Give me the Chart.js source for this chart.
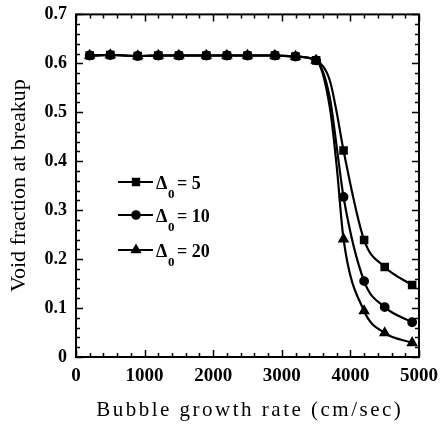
<!DOCTYPE html>
<html><head><meta charset="utf-8">
<script src="https://cdn.jsdelivr.net/npm/chart.js@4/dist/chart.umd.min.js"></script>
<style>html,body{margin:0;padding:0;background:#fff;}#wrap{width:448px;height:426px;position:relative;}</style>
</head><body><div id="wrap"><canvas id="c" width="448" height="426"></canvas></div>
<script>
const growthRate = [200,500,900,1200,1500,1900,2200,2500,2900,3200,3500,3700,3800,3900,4200,4500,4900];
const delta5  = [0.616,0.617,0.615,0.616,0.616,0.616,0.616,0.616,0.616,0.614,0.606,0.565,0.50,0.422,0.239,0.184,0.147];
const delta10 = [0.616,0.617,0.615,0.616,0.616,0.616,0.616,0.616,0.616,0.614,0.606,0.53,0.43,0.327,0.155,0.102,0.071];
const delta20 = [0.616,0.617,0.615,0.616,0.616,0.616,0.616,0.616,0.616,0.614,0.606,0.51,0.39,0.241,0.094,0.049,0.029];
const markerShown = [1,1,1,1,1,1,1,1,1,1,1,0,0,1,1,1,1];
const seriesNames = ["5","10","20"];
const xTicks = [0,1000,2000,3000,4000,5000];
const yTicks = [0,0.1,0.2,0.3,0.4,0.5,0.6,0.7];
const xTitle = 'Bubble growth rate (cm/sec)';
const yTitle = 'Void fraction at breakup';

const styles = ['rect','circle','triangle'];
const sizes = [4.5,3.8,4.5];
function mk(vals, i){
  return {
    label: 'Δ0 = ' + seriesNames[i],
    data: growthRate.map((x,k)=>({x:x,y:vals[k]})),
    borderColor:'#000', backgroundColor:'#000', borderWidth:2.2,
    pointStyle: styles[i],
    pointRadius: markerShown.map(m=> m? sizes[i] : 0),
    pointBackgroundColor:'#000', pointBorderColor:'#000',
    cubicInterpolationMode:'monotone', fill:false
  };
}
const serif = "'Liberation Serif','DejaVu Serif',serif";

function spacedText(ctx, text, cx, y, sp){
  let w = 0; const ws = [];
  for(const ch of text){ const m = ctx.measureText(ch).width; ws.push(m); w += m + sp; }
  w -= sp;
  let x = cx - w/2; let i = 0;
  ctx.textAlign='left';
  for(const ch of text){ ctx.fillText(ch, x, y); x += ws[i++] + sp; }
}

const frame = {
  id:'frame',
  afterDraw(chart){
    const ctx = chart.ctx, a = chart.chartArea;
    const xs = chart.scales.x, ys = chart.scales.y;
    ctx.save();
    ctx.strokeStyle='#000'; ctx.lineWidth=2;
    ctx.strokeRect(a.left, a.top, a.right-a.left, a.bottom-a.top);
    ctx.lineWidth=1.5;
    for(let v=0; v<=5000; v+=200){
      const p = Math.round(xs.getPixelForValue(v))+0.5;
      const L = (v%1000===0)?7:4;
      ctx.beginPath(); ctx.moveTo(p,a.bottom); ctx.lineTo(p,a.bottom-L);
      ctx.moveTo(p,a.top); ctx.lineTo(p,a.top+L); ctx.stroke();
    }
    for(let k=0;k<=35;k++){
      const v = k*0.02;
      const p = Math.round(ys.getPixelForValue(v))+0.5;
      const L = (k%5===0)?7:4;
      ctx.beginPath(); ctx.moveTo(a.left,p); ctx.lineTo(a.left+L,p);
      ctx.moveTo(a.right,p); ctx.lineTo(a.right-L,p); ctx.stroke();
    }
    ctx.fillStyle='#000';
    ctx.font = "21px " + serif;
    ctx.textBaseline='middle';
    spacedText(ctx, xTitle, (a.left+a.right)/2+1, 410, 2.5);
    const rows = [182,215,250];
    chart.data.datasets.forEach((ds,i)=>{
      const y = rows[i];
      ctx.strokeStyle='#000'; ctx.lineWidth=2;
      ctx.beginPath(); ctx.moveTo(118,y); ctx.lineTo(153,y); ctx.stroke();
      ctx.fillStyle='#000';
      Chart.helpers.drawPoint(ctx,{pointStyle:styles[i],radius:sizes[i],borderWidth:1},136,y);
      ctx.fillStyle='#000';
      ctx.textBaseline='middle'; ctx.textAlign='left';
      ctx.font = "bold 18px " + serif;
      ctx.fillText('Δ',156,y+2);
      ctx.font = "bold 13px " + serif;
      ctx.fillText('0',168,y+13);
      ctx.font = "bold 18px " + serif;
      ctx.fillText('= ' + seriesNames[i],177,y+2);
    });
    ctx.restore();
  }
};

const pad = {top:13,right:27,left:0,bottom:0};
const chart = new Chart(document.getElementById('c'),{
  type:'line',
  data:{datasets:[mk(delta5,0),mk(delta10,1),mk(delta20,2)]},
  options:{
    responsive:false, animation:false,
    layout:{padding:pad},
    plugins:{legend:{display:false},tooltip:{enabled:false}},
    scales:{
      x:{type:'linear',min:0,max:5000,
        afterBuildTicks(s){s.ticks = xTicks.map(v=>({value:v}));},
        afterFit(s){s.height=69;},
        grid:{display:false,drawTicks:false}, border:{display:false},
        ticks:{padding:10,color:'#000',font:{family:serif,size:19,weight:'bold',lineHeight:1},maxRotation:0,
          callback:v=>String(v)},
        title:{display:false}
      },
      y:{type:'linear',min:0,max:0.7,
        afterBuildTicks(s){s.ticks = yTicks.map(v=>({value:v}));},
        afterFit(s){s.width=76;},
        grid:{display:false,drawTicks:false}, border:{display:false},
        ticks:{padding:9,color:'#000',font:{family:serif,size:18,weight:'bold',lineHeight:0.6},
          callback:v=> v===0 ? '0' : (Math.round(v*10)/10).toFixed(1)},
        title:{display:true,text:yTitle,color:'#000',font:{family:serif,size:22},padding:{top:6,bottom:4}}
      }
    }
  },
  plugins:[frame]
});
// nudge layout padding so the plot box lands where the original's does
for(let it=0; it<4; it++){
  const a = chart.chartArea;
  const dT = 13 - a.top, dR = a.right - 421;
  if(Math.abs(dT)<0.3 && Math.abs(dR)<0.3) break;
  pad.top = Math.max(0, pad.top + dT);
  pad.right = Math.max(0, pad.right + dR);
  chart.options.layout.padding = {top:pad.top,right:pad.right,left:0,bottom:0};
  chart.update();
}
</script></body></html>
